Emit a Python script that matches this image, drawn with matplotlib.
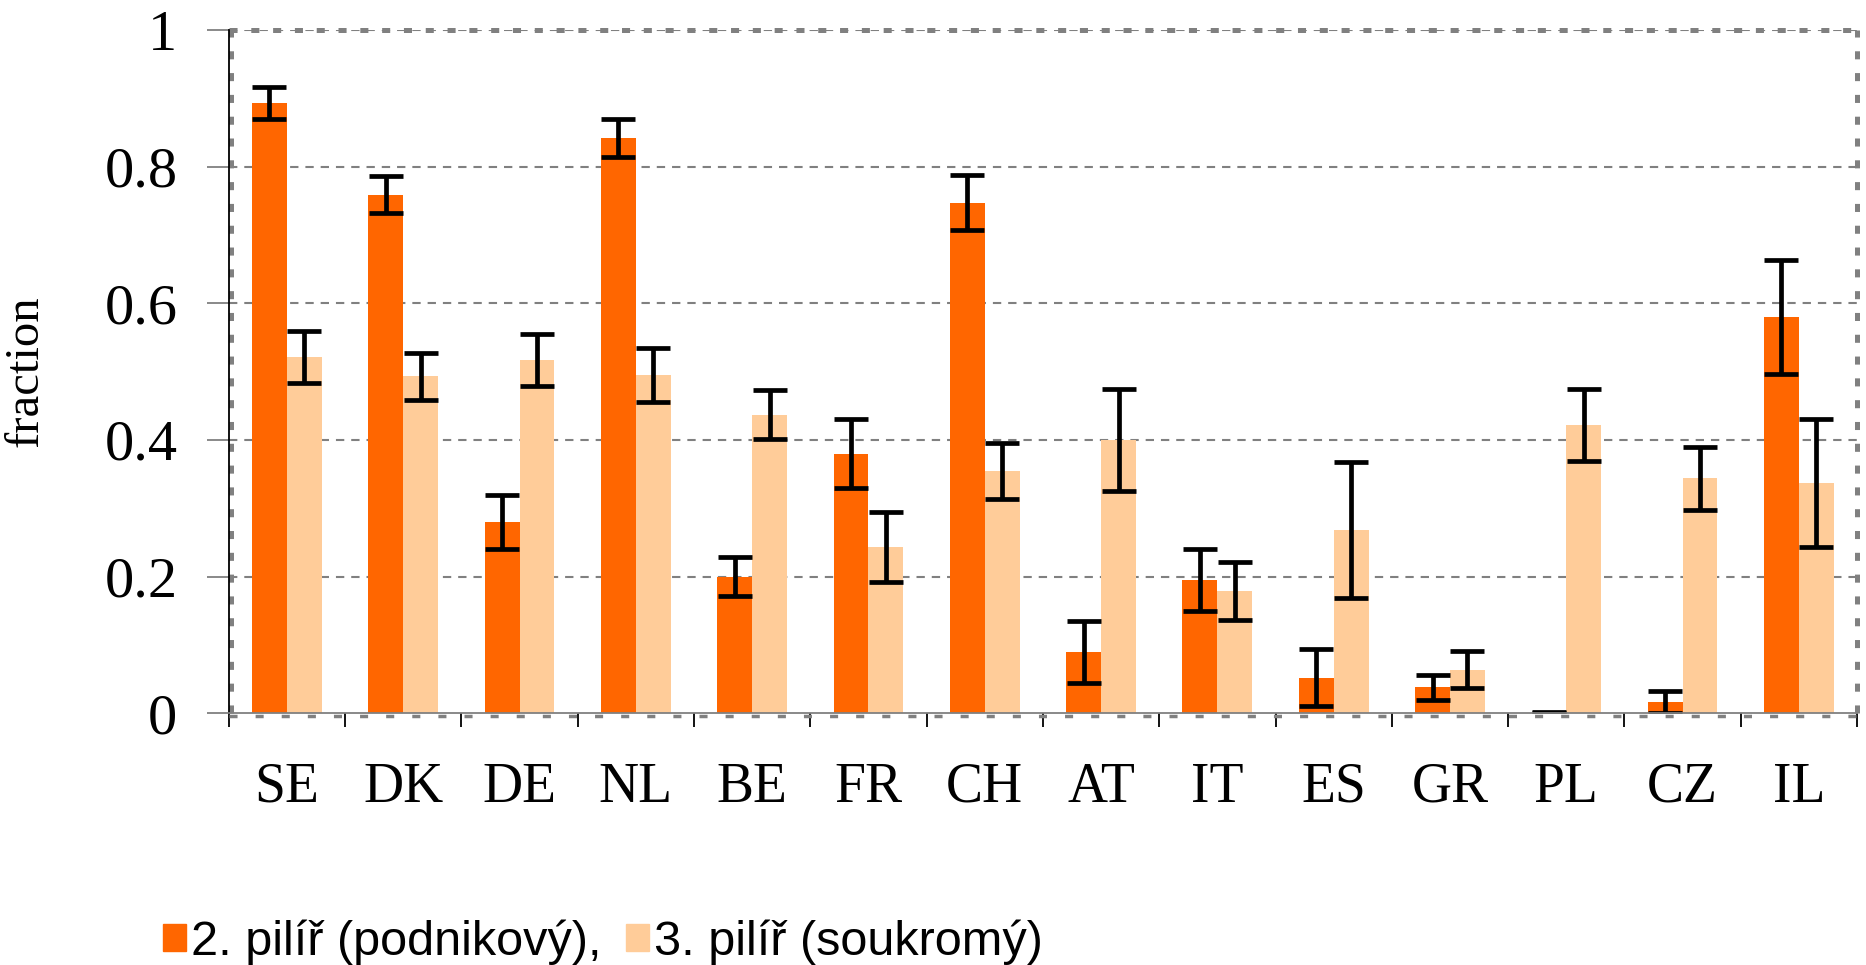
import numpy as np
import matplotlib.pyplot as plt
from matplotlib.patches import Patch
from matplotlib.transforms import ScaledTranslation

plt.rcParams['lines.scale_dashes'] = False

countries = ['SE', 'DK', 'DE', 'NL', 'BE', 'FR', 'CH', 'AT', 'IT', 'ES', 'GR', 'PL', 'CZ', 'IL']
pillar2 = [0.893, 0.759, 0.280, 0.842, 0.200, 0.380, 0.747, 0.090, 0.195, 0.052, 0.038, 0.001, 0.016, 0.580]
pillar2_err = [0.023, 0.027, 0.039, 0.028, 0.028, 0.051, 0.040, 0.045, 0.045, 0.042, 0.018, 0.001, 0.016, 0.083]
pillar3 = [0.521, 0.493, 0.517, 0.495, 0.437, 0.243, 0.354, 0.400, 0.179, 0.268, 0.064, 0.422, 0.344, 0.337]
pillar3_err = [0.038, 0.034, 0.038, 0.040, 0.036, 0.051, 0.041, 0.074, 0.042, 0.100, 0.027, 0.053, 0.046, 0.093]
labels = ['2. pilíř (podnikový),', '3. pilíř (soukromý)']

colors = ['#ff6600', '#ffcc99']
grey = '#808080'
serif = 'Liberation Serif'

fig = plt.figure(figsize=(18.66, 9.65), dpi=100)
ax = fig.add_axes([0.1226, 0.2608, 0.8726, 0.7083])

x = np.arange(len(countries))
w = 0.30
err_kw = dict(ecolor='black', elinewidth=3.4, capsize=12, capthick=3.4)
ax.bar(x - w/2, pillar2, w, color=colors[0], yerr=pillar2_err, error_kw=err_kw, zorder=3)
ax.bar(x + w/2, pillar3, w, color=colors[1], yerr=pillar3_err, error_kw=err_kw, zorder=3)

ax.set_xlim(-0.5, len(countries) - 0.5)
ax.set_ylim(0, 1)

# dashed gridlines
for yv in [0.2, 0.4, 0.6, 0.8, 1.0]:
    ax.axhline(yv, color=grey, lw=1.5, ls=(0, (6, 5)), zorder=1)

# dotted plot-area border (drawn a couple of pixels off the axis lines, like the original)
def shifted(dx, dy):
    return ax.transAxes + ScaledTranslation(dx / 100, dy / 100, fig.dpi_scale_trans)

dot_v = dict(color=grey, lw=3.6, ls=(0, (5.8, 9.9)), zorder=2, clip_on=False)
ax.plot([0, 0], [0, 1], transform=shifted(2.5, 0), **dot_v)
ax.plot([1, 1], [0, 1], transform=shifted(0, 0), **dot_v)
ax.plot([0, 1], [1, 1], transform=shifted(0, 0), **dot_v)
ax.plot([0, 1], [0, 0], transform=shifted(0, -3), color=grey, lw=2.5,
        ls=(0, (5.8, 13)), zorder=2, clip_on=False)

for s in ['top', 'right']:
    ax.spines[s].set_visible(False)
ax.spines['left'].set_color('black')
ax.spines['left'].set_linewidth(1.3)
ax.spines['bottom'].set_color(grey)
ax.spines['bottom'].set_linewidth(1.3)
ax.spines['left'].set_zorder(4)
ax.spines['bottom'].set_zorder(4)

ax.set_yticks([0, 0.2, 0.4, 0.6, 0.8, 1.0])
ax.set_yticklabels(['0', '0.2', '0.4', '0.6', '0.8', '1'], family=serif, fontsize=42)
ax.tick_params(axis='y', length=16, width=1.3, color=grey, pad=21)

ax.set_xticks(np.arange(len(countries) + 1) - 0.5)
ax.set_xticklabels([])
ax.tick_params(axis='x', which='major', length=10, width=1.3, color='black')
ax.set_xticks(x, minor=True)
ax.set_xticklabels(countries, minor=True, family=serif, fontsize=40)
ax.tick_params(axis='x', which='minor', length=0, pad=35)

ax.set_ylabel('fraction', family=serif, fontsize=35)
ax.yaxis.set_label_coords(-0.1116, 0.5)

handles = [Patch(color=c) for c in colors]
fig.legend(handles, labels, loc='lower left', bbox_to_anchor=(0.0874, 0.0), ncol=2,
           frameon=False, borderpad=0, borderaxespad=0, handlelength=0.48, handleheight=0.48,
           handletextpad=0.1, columnspacing=0.5,
           prop={'family': 'Liberation Sans', 'size': 35})

fig.savefig('out.png', dpi=100)
